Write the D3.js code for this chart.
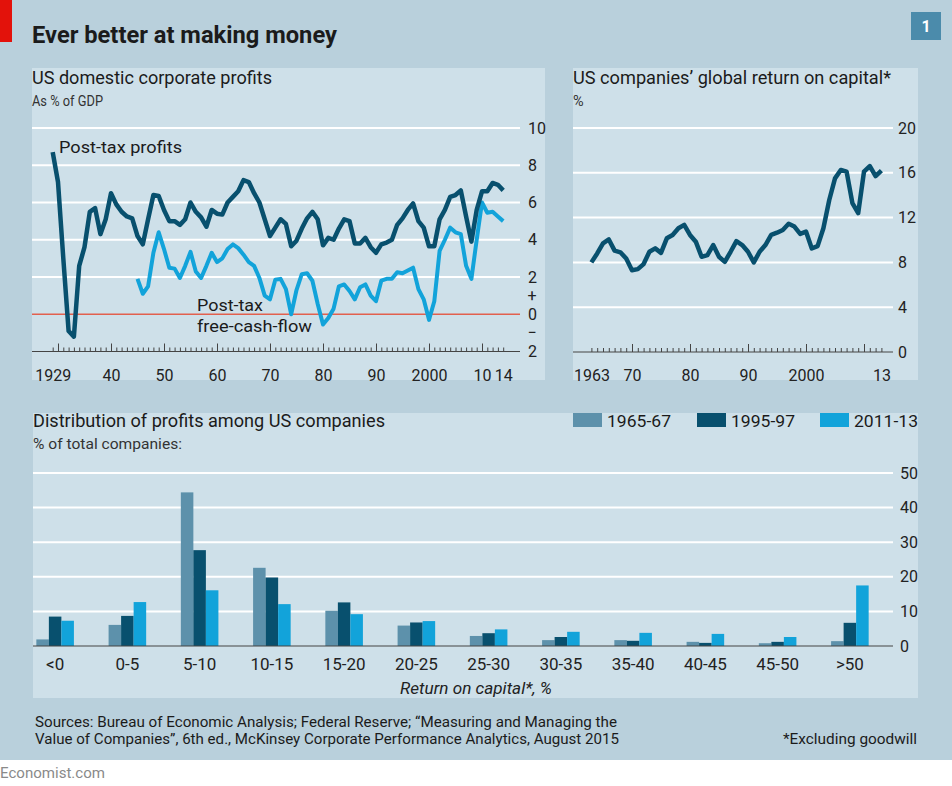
<!DOCTYPE html>
<html>
<head>
<meta charset="utf-8">
<title>Ever better at making money</title>
<script src="https://cdn.jsdelivr.net/npm/d3@7"></script>
<style>
  body { margin: 0; background: #fff; }
  svg text { font-family: Roboto, "Noto Sans", sans-serif; fill: #1b1b1b; }
</style>
</head>
<body>
<svg id="chart"></svg>
<script>
// US domestic corporate profits, % of GDP (post-tax), 1929-2014
const profitStart = 1929;
const postTaxProfits = [
  8.7, 7.1, 3.0, -0.9, -1.2, 2.6, 3.6, 5.5, 5.7, 4.3, 5.1,          // 1929-39
  6.5, 5.9, 5.5, 5.25, 5.15, 4.2, 3.75, 5.1, 6.4, 6.35,             // 1940-49
  5.6, 5.0, 5.0, 4.8, 5.1, 6.0, 5.5, 5.2, 4.7, 5.6,                 // 1950-59
  5.4, 5.35, 6.0, 6.3, 6.6, 7.2, 7.1, 6.5, 6.0, 5.1,                // 1960-69
  4.2, 4.65, 5.1, 4.85, 3.65, 3.95, 4.6, 5.15, 5.5, 5.1,            // 1970-79
  3.7, 4.1, 4.0, 4.6, 5.1, 5.0, 3.8, 3.8, 4.1, 3.6,                 // 1980-89
  3.3, 3.75, 3.85, 4.0, 4.8, 5.15, 5.6, 5.95, 5.0, 4.65,            // 1990-99
  3.65, 3.65, 5.1, 5.6, 6.3, 6.4, 6.65, 5.25, 3.9, 5.6,             // 2000-09
  6.6, 6.6, 7.05, 6.95, 6.65                                        // 2010-14
];
// post-tax free cash flow, % of GDP, 1945-2014
const cashFlowStart = 1945;
const freeCashFlow = [
  1.9, 1.1, 1.5, 3.3, 4.4,                                          // 1945-49
  3.5, 2.5, 2.45, 1.95, 2.6, 3.35, 2.3, 1.95, 2.6, 3.3,             // 1950-59
  2.8, 3.0, 3.5, 3.75, 3.55, 3.2, 2.8, 2.6, 1.95, 1.0,              // 1960-69
  0.8, 1.85, 1.9, 1.35, 0.0, 1.3, 2.15, 2.2, 1.8, 0.55,             // 1970-79
  -0.55, -0.2, 0.3, 1.5, 1.6, 1.25, 0.8, 1.45, 1.6, 1.0,            // 1980-89
  0.7, 1.8, 1.9, 1.9, 2.25, 2.2, 2.35, 2.5, 1.35, 0.8,              // 1990-99
  -0.3, 0.7, 3.4, 4.0, 4.65, 4.4, 4.3, 2.6, 1.9, 4.0,               // 2000-09
  6.0, 5.45, 5.5, 5.25, 5.0                                         // 2010-14
];
const profitYTicks = [-2, 0, 2, 4, 6, 8, 10];
const profitXLabels = [1929, 1940, 1950, 1960, 1970, 1980, 1990, 2000, 2010, 2014];

// US companies' global return on capital, %, 1963-2013
const rocStart = 1963;
const globalROC = [
  8.0, 8.8, 9.7, 10.05, 9.05, 8.9, 8.35,                            // 1963-69
  7.3, 7.4, 7.85, 8.95, 9.25, 8.85, 10.15, 10.45, 11.05, 11.35,     // 1970-79
  10.45, 9.85, 8.5, 8.65, 9.55, 8.5, 8.05, 8.95, 9.9, 9.55,         // 1980-89
  8.95, 8.0, 8.95, 9.55, 10.45, 10.65, 10.9, 11.45, 11.2, 10.55,    // 1990-99
  10.75, 9.25, 9.45, 11.05, 13.55, 15.5, 16.25, 16.1, 13.3, 12.4,   // 2000-09
  16.1, 16.6, 15.7, 16.2                                            // 2010-13
];
const rocYTicks = [0, 4, 8, 12, 16, 20];
const rocXLabels = [1963, 1970, 1980, 1990, 2000, 2013];

// Distribution of profits among US companies, % of total companies
const roicBands = ["<0", "0-5", "5-10", "10-15", "15-20", "20-25", "25-30", "30-35", "35-40", "40-45", "45-50", ">50"];
const periods = ["1965-67", "1995-97", "2011-13"];
const dist1965 = [1.9, 6.1, 44.4, 22.6, 10.2, 5.9, 2.9, 1.7, 1.7, 1.2, 0.8, 1.4];
const dist1995 = [8.5, 8.7, 27.7, 19.8, 12.6, 6.8, 3.7, 2.6, 1.5, 0.9, 1.2, 6.7];
const dist2011 = [7.3, 12.7, 16.1, 12.1, 9.2, 7.2, 4.8, 4.1, 3.8, 3.5, 2.6, 17.5];
const distYTicks = [0, 10, 20, 30, 40, 50];

const darkBlue = "#08506e", lightBlue = "#12a3da", greyBlue = "#5d91ab";
const periodColours = [greyBlue, darkBlue, lightBlue];

const svg = d3.select("#chart").attr("width", 952).attr("height", 786);

// backgrounds
svg.append("rect").attr("width", 952).attr("height", 760).attr("fill", "#b9d0dc");
svg.append("rect").attr("width", 12).attr("height", 42).attr("fill", "#e3120b");
svg.append("rect").attr("x", 911).attr("y", 12).attr("width", 30).attr("height", 28).attr("fill", "#4b8bab");
svg.append("text").attr("x", 926).attr("y", 32).attr("text-anchor", "middle")
   .style("font-size", "16px").style("font-weight", 700).style("fill", "#fff").text("1");

svg.append("text").attr("x", 32).attr("y", 43)
   .style("font-size", "23px").style("font-weight", 700)
   .attr("textLength", 305).attr("lengthAdjust", "spacingAndGlyphs")
   .text("Ever better at making money");

const panels = [[32, 68, 513, 312], [573, 68, 345, 312], [33, 413, 885, 285]];
panels.forEach(p => svg.append("rect").attr("x", p[0]).attr("y", p[1])
  .attr("width", p[2]).attr("height", p[3]).attr("fill", "#cee0e9"));

function title(x, y, txt, len) {
  svg.append("text").attr("x", x).attr("y", y).style("font-size", "18px")
     .attr("textLength", len).attr("lengthAdjust", "spacingAndGlyphs").text(txt);
}
function subtitle(x, y, txt, size, len) {
  const t = svg.append("text").attr("x", x).attr("y", y).style("font-size", size + "px").style("fill", "#333").text(txt);
  if (len) t.attr("textLength", len).attr("lengthAdjust", "spacingAndGlyphs");
}

function styleAxis(g, size) {
  g.select(".domain").remove();
  g.selectAll("text").style("font-size", size + "px").style("fill", "#222")
   .style("font-family", "Roboto, sans-serif");
}

// ---------- chart 1: domestic corporate profits ----------
title(32, 84, "US domestic corporate profits", 240);
subtitle(32, 106, "As % of GDP", 14.5, 71);

const x1 = d3.scaleLinear().domain([1929, 2014]).range([52.7, 503.2]);
const y1 = d3.scaleLinear().domain([-2, 10]).range([351.5, 128]);

svg.append("g").selectAll("line").data(profitYTicks.filter(d => d > 0)).enter()
   .append("line").attr("x1", 32).attr("x2", 520)
   .attr("y1", d => y1(d)).attr("y2", d => y1(d))
   .attr("stroke", "#fff").attr("stroke-width", 2);

svg.append("g").attr("transform", "translate(528,0)")
   .call(d3.axisRight(y1).tickValues(profitYTicks).tickSize(0).tickPadding(0)
          .tickFormat(d => Math.abs(d)))
   .call(g => styleAxis(g, 16));
svg.append("text").attr("x", 532).attr("y", y1(1)).attr("dy", "0.35em").attr("text-anchor", "middle")
   .style("font-size", "16px").style("fill", "#222").text("+");
svg.append("text").attr("x", 532).attr("y", y1(-1)).attr("dy", "0.35em").attr("text-anchor", "middle")
   .style("font-size", "16px").style("fill", "#222").text("\u2212");

const profitYears = postTaxProfits.map((v, i) => profitStart + i);
svg.append("g").attr("transform", "translate(0," + y1(-2) + ")")
   .call(d3.axisTop(x1).tickValues(profitYears).tickSize(4).tickFormat(""))
   .call(g => g.select(".domain").remove())
   .call(g => g.selectAll("line").attr("stroke", "#444"));
svg.append("g").attr("transform", "translate(0," + y1(-2) + ")")
   .call(d3.axisTop(x1).tickValues(profitYears.filter(d => d % 10 === 0)).tickSize(8).tickFormat(""))
   .call(g => g.select(".domain").remove())
   .call(g => g.selectAll("line").attr("stroke", "#444"));
svg.append("line").attr("x1", 32).attr("x2", 520).attr("y1", y1(-2)).attr("y2", y1(-2))
   .attr("stroke", "#444").attr("stroke-width", 1.2);
svg.append("g").attr("transform", "translate(0," + y1(-2) + ")")
   .call(d3.axisBottom(x1).tickValues(profitXLabels).tickSize(0).tickPadding(18)
          .tickFormat(d => (d === 1929 || d === 2000) ? String(d) : String(d).slice(2)))
   .call(g => styleAxis(g, 16));

svg.append("line").attr("x1", 32).attr("x2", 520).attr("y1", y1(0)).attr("y2", y1(0))
   .attr("stroke", "#e2604e").attr("stroke-width", 1.5);

const line1 = d3.line().x(d => x1(d.year)).y(d => y1(d.value));
svg.append("path")
   .datum(freeCashFlow.map((v, i) => ({ year: cashFlowStart + i, value: v })))
   .attr("fill", "none").attr("stroke", lightBlue).attr("stroke-width", 4)
   .attr("stroke-linejoin", "round").attr("d", line1);
svg.append("path")
   .datum(postTaxProfits.map((v, i) => ({ year: profitStart + i, value: v })))
   .attr("fill", "none").attr("stroke", darkBlue).attr("stroke-width", 4.5)
   .attr("stroke-linejoin", "round").attr("d", line1);

svg.append("text").attr("x", 59).attr("y", 153).style("font-size", "17px")
   .attr("textLength", 123).attr("lengthAdjust", "spacingAndGlyphs").text("Post-tax profits");
svg.append("text").attr("x", 197).attr("y", 311).style("font-size", "17px")
   .attr("textLength", 66).attr("lengthAdjust", "spacingAndGlyphs").text("Post-tax");
svg.append("text").attr("x", 197).attr("y", 332).style("font-size", "17px")
   .attr("textLength", 115).attr("lengthAdjust", "spacingAndGlyphs").text("free-cash-flow");

// ---------- chart 2: global return on capital ----------
title(573, 84, "US companies\u2019 global return on capital*", 318);
subtitle(573, 106, "%", 14.5);

const x2 = d3.scaleLinear().domain([1963, 2013]).range([591.4, 881.4]);
const y2 = d3.scaleLinear().domain([0, 20]).range([352, 128]);

svg.append("g").selectAll("line").data(rocYTicks.filter(d => d > 0)).enter()
   .append("line").attr("x1", 573).attr("x2", 893)
   .attr("y1", d => y2(d)).attr("y2", d => y2(d))
   .attr("stroke", "#fff").attr("stroke-width", 2);
svg.append("g").attr("transform", "translate(898,0)")
   .call(d3.axisRight(y2).tickValues(rocYTicks).tickSize(0).tickPadding(0))
   .call(g => styleAxis(g, 16));

const rocYears = globalROC.map((v, i) => rocStart + i);
svg.append("g").attr("transform", "translate(0," + y2(0) + ")")
   .call(d3.axisTop(x2).tickValues(rocYears).tickSize(4).tickFormat(""))
   .call(g => g.select(".domain").remove())
   .call(g => g.selectAll("line").attr("stroke", "#444"));
svg.append("g").attr("transform", "translate(0," + y2(0) + ")")
   .call(d3.axisTop(x2).tickValues(rocYears.filter(d => d % 10 === 0)).tickSize(8).tickFormat(""))
   .call(g => g.select(".domain").remove())
   .call(g => g.selectAll("line").attr("stroke", "#444"));
svg.append("line").attr("x1", 573).attr("x2", 893).attr("y1", y2(0)).attr("y2", y2(0))
   .attr("stroke", "#444").attr("stroke-width", 1.2);
svg.append("g").attr("transform", "translate(0," + y2(0) + ")")
   .call(d3.axisBottom(x2).tickValues(rocXLabels).tickSize(0).tickPadding(18)
          .tickFormat(d => (d === 1963 || d === 2000) ? String(d) : String(d).slice(2)))
   .call(g => styleAxis(g, 16));

svg.append("path")
   .datum(globalROC.map((v, i) => ({ year: rocStart + i, value: v })))
   .attr("fill", "none").attr("stroke", darkBlue).attr("stroke-width", 4.5)
   .attr("stroke-linejoin", "round")
   .attr("d", d3.line().x(d => x2(d.year)).y(d => y2(d.value)));

// ---------- chart 3: distribution of profits ----------
title(33, 427, "Distribution of profits among US companies", 352);
subtitle(33, 449, "% of total companies:", 15, 149);

const x3 = d3.scaleBand().domain(roicBands).range([19, 886]).paddingInner(0.48).paddingOuter(0.24);
const x3inner = d3.scaleBand().domain(periods).range([0, x3.bandwidth()]);
const y3 = d3.scaleLinear().domain([0, 50]).range([646, 473]);

svg.append("g").selectAll("line").data(distYTicks.filter(d => d > 0)).enter()
   .append("line").attr("x1", 33).attr("x2", 893)
   .attr("y1", d => y3(d)).attr("y2", d => y3(d))
   .attr("stroke", "#fff").attr("stroke-width", 2);
svg.append("g").attr("transform", "translate(900,0)")
   .call(d3.axisRight(y3).tickValues(distYTicks).tickSize(0).tickPadding(0))
   .call(g => styleAxis(g, 16));

const distRows = roicBands.map((b, i) => ({
  band: b,
  values: [dist1965[i], dist1995[i], dist2011[i]].map((v, j) => ({ period: periods[j], value: v }))
}));
svg.append("g").selectAll("g").data(distRows).enter()
   .append("g").attr("transform", d => "translate(" + x3(d.band) + ",0)")
   .selectAll("rect").data(d => d.values).enter()
   .append("rect")
   .attr("x", d => x3inner(d.period)).attr("width", x3inner.bandwidth())
   .attr("y", d => y3(d.value)).attr("height", d => y3(0) - y3(d.value))
   .attr("fill", (d, i) => periodColours[i]);

svg.append("line").attr("x1", 33).attr("x2", 893).attr("y1", y3(0)).attr("y2", y3(0))
   .attr("stroke", "#444").attr("stroke-width", 1.2);
svg.append("g").attr("transform", "translate(0," + y3(0) + ")")
   .call(d3.axisBottom(x3).tickSize(0).tickPadding(12))
   .call(g => styleAxis(g, 17));
svg.append("text").attr("x", 476).attr("y", 694).attr("text-anchor", "middle")
   .style("font-size", "17px").style("font-style", "italic").style("fill", "#222")
   .attr("textLength", 152).attr("lengthAdjust", "spacingAndGlyphs")
   .text("Return on capital*, %");

// legend
const legendX = [573, 697, 820];
periods.forEach((p, i) => {
  svg.append("rect").attr("x", legendX[i]).attr("y", 413).attr("width", 29).attr("height", 14)
     .attr("fill", periodColours[i]);
  svg.append("text").attr("x", legendX[i] + 34).attr("y", 427).style("font-size", "17px")
     .attr("textLength", 64).attr("lengthAdjust", "spacingAndGlyphs").text(p);
});

// ---------- footer ----------
svg.append("text").attr("x", 35).attr("y", 727).style("font-size", "14.5px")
   .attr("textLength", 582).attr("lengthAdjust", "spacingAndGlyphs")
   .text("Sources: Bureau of Economic Analysis; Federal Reserve; \u201cMeasuring and Managing the");
svg.append("text").attr("x", 35).attr("y", 744).style("font-size", "14.5px")
   .attr("textLength", 584).attr("lengthAdjust", "spacingAndGlyphs")
   .text("Value of Companies\u201d, 6th ed., McKinsey Corporate Performance Analytics, August 2015");
svg.append("text").attr("x", 917).attr("y", 744).attr("text-anchor", "end").style("font-size", "14.5px")
   .attr("textLength", 134).attr("lengthAdjust", "spacingAndGlyphs")
   .text("*Excluding goodwill");
svg.append("text").attr("x", 0).attr("y", 778).style("font-size", "15px").style("fill", "#8a8a8a")
   .attr("textLength", 105).attr("lengthAdjust", "spacingAndGlyphs")
   .text("Economist.com");
</script>
</body>
</html>
